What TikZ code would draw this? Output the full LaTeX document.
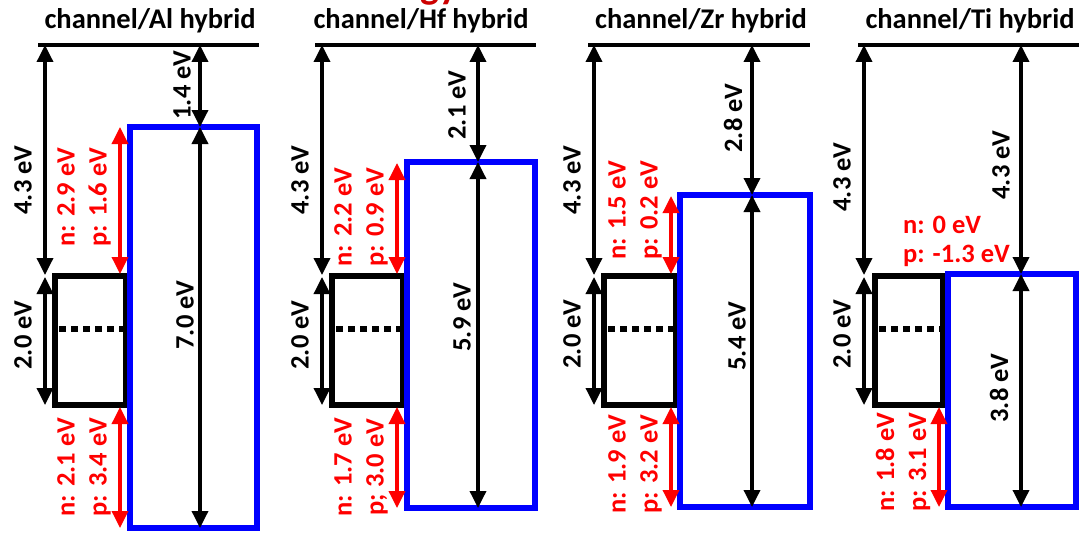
\documentclass[tikz,border=0pt]{standalone}
\usepackage{fontspec}
\setmainfont{Carlito}
\usetikzlibrary{arrows.meta}
\definecolor{bandblue}{RGB}{0,0,255}
\definecolor{offred}{RGB}{255,0,0}
\definecolor{titlered}{RGB}{204,0,0}
\begin{document}
\begin{tikzpicture}[x=1pt,y=-1pt,
  lvl/.style={line width=4.5pt},
  dim/.style={line width=3.5pt,{Triangle[length=17pt,width=16pt]}-{Triangle[length=17pt,width=16pt]}},
  offdim/.style={dim, draw=offred},
  ttl/.style={font=\fontsize{28.5}{32}\selectfont\bfseries, inner sep=0pt},
  lab/.style={font=\fontsize{26.5}{32}\selectfont\bfseries, rotate=90, inner sep=0pt},
  offlab/.style={lab, text=offred, align=center},
  hlab/.style={font=\fontsize{26.5}{32}\selectfont\bfseries, text=offred, inner sep=0pt, anchor=west},
  chbox/.style={line width=5.5pt},
  oxbox/.style={line width=5.5pt, draw=bandblue},
  midgap/.style={line width=6pt, dash pattern=on 7pt off 5pt},
]
\useasboundingbox (0,0) rectangle (1079,535);
\begin{scope}
\clip (0,0) rectangle (1079,535);
\node[text=titlered, font=\fontsize{40}{40}\selectfont\bfseries, anchor=base west, inner sep=0pt] (gy) at (420,-1) {gy};
\end{scope}
% ---------- Al ----------
\node[ttl] (tAl) at (150,21) {channel/Al hybrid};
\draw[lvl] (38,45) -- (259,45);
\draw[chbox] (55,276) rectangle (126,405);
\draw[midgap] (59,329) -- (124,329);
\draw[oxbox] (130,127) rectangle (257,528);
\draw[dim] (45,45) -- (45,275);
\draw[dim] (45,277) -- (45,405);
\draw[dim] (200,45) -- (200,127);
\draw[dim] (200,127) -- (200,528);
\draw[offdim] (120,127) -- (120,274);
\draw[offdim] (120,407) -- (120,528);
\node[lab] (a43) at (23,180) {4.3 eV};
\node[lab] (a14) at (182,85) {1.4 eV};
\node[lab] (a20) at (23,335) {2.0 eV};
\node[lab] (a70) at (185,315) {7.0 eV};
\node[offlab] (aup) at (84,197) {n: 2.9 eV\\p: 1.6 eV};
\node[offlab] (adn) at (84,467) {n: 2.1 eV\\p: 3.4 eV};
% ---------- Hf ----------
\node[ttl] (tHf) at (421,21) {channel/Hf hybrid};
\draw[lvl] (315,45) -- (536,45);
\draw[chbox] (332,276) rectangle (403,405);
\draw[midgap] (336,329) -- (401,329);
\draw[oxbox] (407,162) rectangle (535,508);
\draw[dim] (322,45) -- (322,275);
\draw[dim] (322,277) -- (322,405);
\draw[dim] (478,45) -- (478,162);
\draw[dim] (478,162) -- (478,508);
\draw[offdim] (397,163) -- (397,274);
\draw[offdim] (397,407) -- (397,508);
\node[lab] (h43) at (300,180) {4.3 eV};
\node[lab] (h21) at (457,105) {2.1 eV};
\node[lab] (h20) at (300,335) {2.0 eV};
\node[lab] (h59) at (462,317) {5.9 eV};
\node[offlab] (hup) at (361,217) {n: 2.2 eV\\p: 0.9 eV};
\node[offlab] (hdn) at (361,467) {n: 1.7 eV\\p; 3.0 eV};
% ---------- Zr ----------
\node[ttl] (tZr) at (701,21) {channel/Zr hybrid};
\draw[lvl] (588,45) -- (810,45);
\draw[chbox] (604,276) rectangle (676,405);
\draw[midgap] (608,329) -- (674,329);
\draw[oxbox] (680,195) rectangle (810,507);
\draw[dim] (594,45) -- (594,275);
\draw[dim] (594,277) -- (594,405);
\draw[dim] (752,45) -- (752,195);
\draw[dim] (752,195) -- (752,507);
\draw[offdim] (671,196) -- (671,274);
\draw[offdim] (671,407) -- (671,507);
\node[lab] (z43) at (572,180) {4.3 eV};
\node[lab] (z28) at (733,118) {2.8 eV};
\node[lab] (z20) at (572,334) {2.0 eV};
\node[lab] (z54) at (737,336) {5.4 eV};
\node[offlab] (zup) at (635,210) {n: 1.5 eV\\p: 0.2 eV};
\node[offlab] (zdn) at (635,464) {n: 1.9 eV\\p: 3.2 eV};
% ---------- Ti ----------
\node[ttl] (tTi) at (970,21) {channel/Ti hybrid};
\draw[lvl] (858,45) -- (1079,45);
\draw[chbox] (875,276) rectangle (943,405);
\draw[midgap] (879,329) -- (941,329);
\draw[oxbox] (948,274) rectangle (1076,507);
\draw[dim] (864,45) -- (864,275);
\draw[dim] (864,277) -- (864,405);
\draw[dim] (1021,45) -- (1021,274);
\draw[dim] (1021,274) -- (1021,507);
\draw[offdim] (939,407) -- (939,507);
\node[lab] (t43) at (842,177) {4.3 eV};
\node[lab] (t43r) at (1001,165) {4.3 eV};
\node[lab] (t20) at (842,334) {2.0 eV};
\node[lab] (t38) at (999,388) {3.8 eV};
\node[hlab] (tn) at (903,225) {n: 0 eV};
\node[hlab] (tp) at (903,256) {p: -1.3 eV};
\node[offlab] (tdn) at (903,462) {n: 1.8 eV\\p: 3.1 eV};
\end{tikzpicture}
\end{document}
